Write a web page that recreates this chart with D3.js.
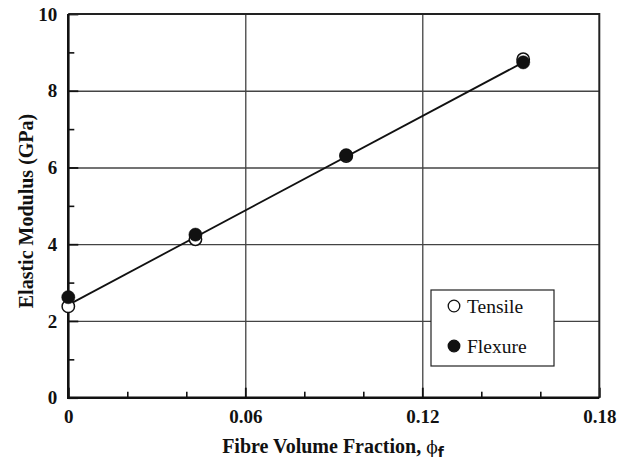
<!DOCTYPE html>
<html>
<head>
<meta charset="utf-8">
<script src="https://cdn.jsdelivr.net/npm/d3@7"></script>
<style>
  html, body { margin: 0; padding: 0; background: #fff; }
  svg { display: block; }
</style>
</head>
<body>
<svg id="chart" width="634" height="461"></svg>
<script>
// Fibre volume fraction of each specimen set
const fractions = [0, 0.0431, 0.0942, 0.1542];
// Elastic modulus (GPa) from tensile and flexure tests
const tensile = [2.38, 4.13, 6.30, 8.82];
const flexure = [2.62, 4.25, 6.32, 8.74];
// Linear trend drawn through the data
const trendX = [0, 0.1542];
const trendY = [2.42, 8.74];

const xTickValues = [0, 0.06, 0.12, 0.18];
const xTickLabels = ["0", "0.06", "0.12", "0.18"];
const xMinorTicks = [0.02, 0.04, 0.08, 0.10, 0.14, 0.16];
const yTickValues = [0, 2, 4, 6, 8, 10];
const yTickLabels = ["0", "2", "4", "6", "8", "10"];
const yMinorTicks = [1, 3, 5, 7, 9];
const seriesNames = ["Tensile", "Flexure"];

const SERIF = "'Liberation Serif', Tinos, 'Times New Roman', Times, 'Nimbus Roman', 'DejaVu Serif', serif";

const svg = d3.select("#chart");
const plotL = 68.3, plotT = 14, plotR = 599.3, plotB = 397.7;
const W = plotR - plotL, H = plotB - plotT;

const x = d3.scaleLinear().domain([0, 0.18]).range([plotL, plotR]);
const y = d3.scaleLinear().domain([0, 10]).range([plotB, plotT]);

// grid lines
const grid = svg.append("g");
grid.append("g")
  .attr("transform", `translate(0,${plotB})`)
  .call(d3.axisBottom(x).tickValues([0.06, 0.12]).tickSize(-H).tickFormat(""))
  .call(g => g.select(".domain").remove())
  .call(g => g.selectAll("line").attr("stroke", "#333").attr("stroke-width", 1.2));
grid.append("g")
  .attr("transform", `translate(${plotL},0)`)
  .call(d3.axisLeft(y).tickValues([2, 4, 6, 8]).tickSize(-W).tickFormat(""))
  .call(g => g.select(".domain").remove())
  .call(g => g.selectAll("line").attr("stroke", "#444").attr("stroke-width", 1.3));

// minor ticks (inward)
svg.append("g")
  .attr("transform", `translate(0,${plotB})`)
  .call(d3.axisBottom(x).tickValues(xMinorTicks).tickSize(-6).tickFormat(""))
  .call(g => g.select(".domain").remove())
  .call(g => g.selectAll("line").attr("stroke", "#111").attr("stroke-width", 1.6));
svg.append("g")
  .attr("transform", `translate(${plotL},0)`)
  .call(d3.axisLeft(y).tickValues(yMinorTicks).tickSize(-6).tickFormat(""))
  .call(g => g.select(".domain").remove())
  .call(g => g.selectAll("line").attr("stroke", "#111").attr("stroke-width", 1.6));

// major ticks with labels
svg.append("g")
  .attr("transform", `translate(0,${plotB})`)
  .call(d3.axisBottom(x).tickValues(xTickValues).tickSize(-10).tickPadding(12)
    .tickFormat((d, i) => xTickLabels[i]))
  .call(g => g.select(".domain").remove())
  .call(g => g.selectAll("line").attr("stroke", "#111").attr("stroke-width", 1.8))
  .call(g => g.selectAll("text")
    .style("font-family", SERIF)
    .style("font-size", "19px").style("font-weight", "bold").attr("fill", "#111"));
svg.append("g")
  .attr("transform", `translate(${plotL},0)`)
  .call(d3.axisLeft(y).tickValues(yTickValues).tickSize(-10).tickPadding(11)
    .tickFormat((d, i) => yTickLabels[i]))
  .call(g => g.select(".domain").remove())
  .call(g => g.selectAll("line").attr("stroke", "#111").attr("stroke-width", 1.8))
  .call(g => g.selectAll("text")
    .style("font-family", SERIF)
    .style("font-size", "19px").style("font-weight", "bold").attr("fill", "#111"));

// frame
svg.append("path")
  .attr("d", `M${plotL},${plotT}H${plotR}V${plotB}`)
  .attr("fill", "none").attr("stroke", "#222").attr("stroke-width", 2);
svg.append("path")
  .attr("d", `M${plotL},${plotT}V${plotB}H${plotR}`)
  .attr("fill", "none").attr("stroke", "#111").attr("stroke-width", 2.6);

// trend line
svg.append("path")
  .datum(d3.zip(trendX, trendY))
  .attr("d", d3.line().x(d => x(d[0])).y(d => y(d[1])))
  .attr("fill", "none").attr("stroke", "#111").attr("stroke-width", 1.8);

// markers: tensile (open) beneath flexure (filled)
svg.append("g").selectAll("circle")
  .data(d3.zip(fractions, tensile)).join("circle")
  .attr("cx", d => x(d[0])).attr("cy", d => y(d[1])).attr("r", 6.2)
  .attr("fill", "#fff").attr("stroke", "#111").attr("stroke-width", 1.5);
svg.append("g").selectAll("circle")
  .data(d3.zip(fractions, flexure)).join("circle")
  .attr("cx", d => x(d[0])).attr("cy", d => y(d[1])).attr("r", 6.6)
  .attr("fill", "#111").attr("stroke", "#111").attr("stroke-width", 0.5);

// legend
const lg = svg.append("g");
lg.append("rect")
  .attr("x", 431).attr("y", 290).attr("width", 123).attr("height", 76)
  .attr("fill", "#fff").attr("stroke", "#222").attr("stroke-width", 1.2);
const legendRows = [
  { name: seriesNames[0], fill: "#fff", cy: 306 },
  { name: seriesNames[1], fill: "#111", cy: 346 }
];
legendRows.forEach(r => {
  lg.append("circle").attr("cx", 454).attr("cy", r.cy).attr("r", 5.8)
    .attr("fill", r.fill).attr("stroke", "#111").attr("stroke-width", 1.3);
  lg.append("text").attr("x", 467).attr("y", r.cy + 6.5)
    .style("font-family", SERIF).style("font-size", "19.5px").attr("fill", "#111")
    .text(r.name);
});

// axis titles
svg.append("text")
  .attr("transform", `translate(33,211) rotate(-90)`)
  .attr("text-anchor", "middle")
  .style("font-family", SERIF).style("font-size", "20px").style("font-weight", "bold")
  .attr("fill", "#111")
  .text("Elastic Modulus (GPa)");
const xt = svg.append("text")
  .attr("x", 333).attr("y", 453)
  .attr("text-anchor", "middle")
  .style("font-family", SERIF).style("font-size", "20px").style("font-weight", "bold")
  .attr("fill", "#111");
xt.append("tspan").text("Fibre Volume Fraction, ");
xt.append("tspan").style("font-weight", "normal").style("font-family", "'DejaVu Serif', serif")
  .style("font-size", "17px").text("\u03D5");
xt.append("tspan").style("font-size", "14px").attr("dy", 4)
  .style("font-family", "'DejaVu Sans', sans-serif")
  .text("f");
</script>
</body>
</html>
